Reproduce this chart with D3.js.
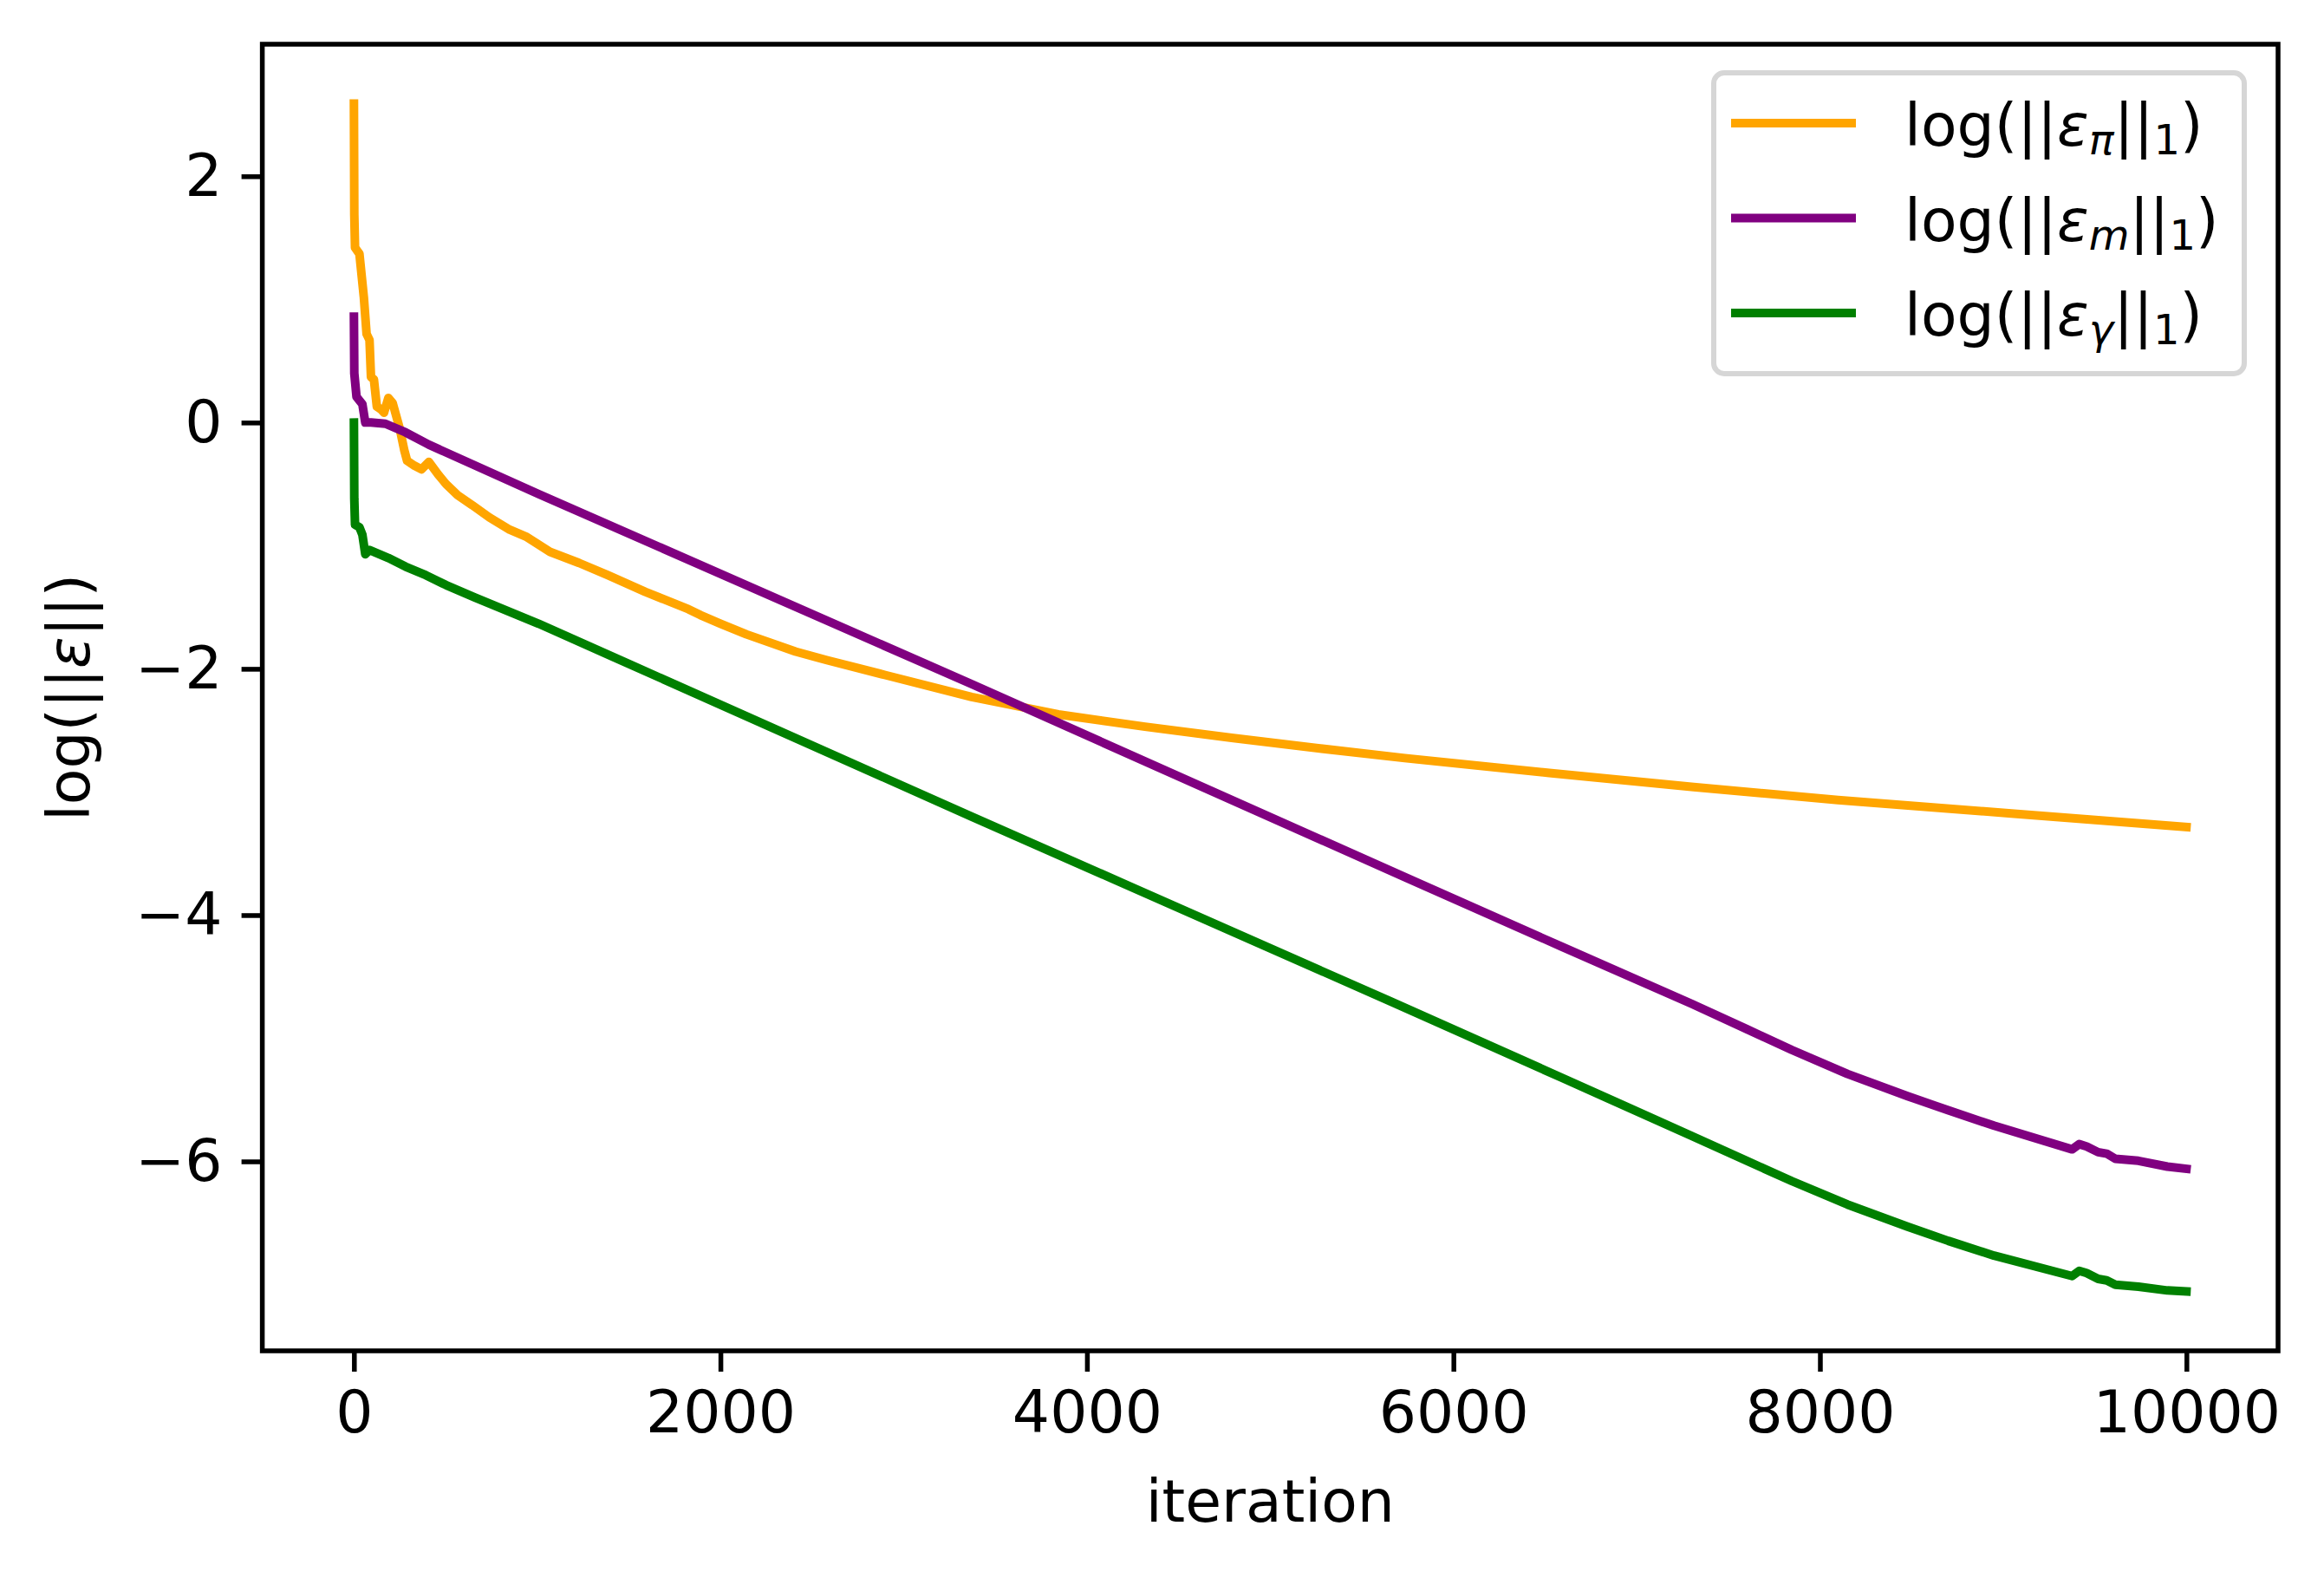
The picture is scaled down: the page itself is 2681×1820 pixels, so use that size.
<!DOCTYPE html>
<html>
<head>
<meta charset="utf-8">
<script src="https://cdn.jsdelivr.net/npm/d3@7"></script>
<style>
  body { margin: 0; background: #fff; }
  svg text { font-family: "DejaVu Sans", sans-serif; }
</style>
</head>
<body>
<svg id="chart" width="2681" height="1820"></svg>
<script>
// log(||eps_pi||_1)
const piIter = [0, 2, 6, 30, 54, 69, 85, 93, 109, 125, 149, 164, 188, 211, 251, 274, 290, 330, 369, 409, 464, 503, 566, 645, 739, 850, 944, 1070, 1228, 1386, 1590, 1826, 1890, 2000, 2142, 2410, 2583, 2898, 3371, 3844, 4317, 4790, 5262, 5735, 6523, 7311, 8099, 9045, 10000];
const piVal = [2.59, 1.69, 1.42, 1.37, 1.02, 0.72, 0.67, 0.37, 0.35, 0.13, 0.105, 0.08, 0.20, 0.16, -0.055, -0.22, -0.31, -0.35, -0.38, -0.32, -0.43, -0.50, -0.59, -0.67, -0.77, -0.87, -0.93, -1.05, -1.14, -1.24, -1.375, -1.516, -1.563, -1.633, -1.72, -1.86, -1.93, -2.05, -2.229, -2.37, -2.47, -2.56, -2.645, -2.725, -2.845, -2.96, -3.065, -3.175, -3.285];

// log(||eps_m||_1)
const mIter = [0, 2, 14, 46, 62, 93, 172, 282, 409, 1007, 3371, 5735, 6586, 7300, 7600, 7847, 8150, 8478, 8700, 8950, 9376, 9415, 9455, 9518, 9565, 9612, 9738, 9896, 10000];
const mVal = [0.86, 0.40, 0.21, 0.15, 0.0, 0.0, -0.01, -0.08, -0.18, -0.58, -2.124, -3.691, -4.253, -4.72, -4.925, -5.095, -5.29, -5.47, -5.585, -5.71, -5.902, -5.86, -5.878, -5.925, -5.937, -5.979, -5.995, -6.042, -6.06];

// log(||eps_gamma||_1)
const gIter = [0, 2, 6, 30, 46, 62, 85, 188, 282, 393, 503, 660, 1007, 3371, 5656, 6586, 7296, 7600, 7847, 8150, 8478, 8700, 8950, 9376, 9415, 9455, 9518, 9565, 9612, 9738, 9896, 10000];
const gVal = [0.0, -0.62, -0.83, -0.85, -0.91, -1.07, -1.035, -1.10, -1.17, -1.24, -1.32, -1.42, -1.633, -3.2, -4.70, -5.317, -5.79, -5.995, -6.16, -6.35, -6.53, -6.645, -6.765, -6.931, -6.889, -6.907, -6.954, -6.966, -7.001, -7.017, -7.048, -7.056];

const xTicks = [0, 2000, 4000, 6000, 8000, 10000];
const yTicks = [-6, -4, -2, 0, 2];
const subs = ["π", "m", "γ"];
const colors = ["orange", "purple", "green"];

const series = [
    {iter: piIter, val: piVal},
    {iter: mIter, val: mVal},
    {iter: gIter, val: gVal}
].map((s, i) => ({sub: subs[i], color: colors[i], pts: s.iter.map((d, j) => [d, s.val[j]])}));

let svg = d3.select("#chart");
const plot = {left: 302.6, right: 2628, top: 51, bottom: 1558};
const fontSize = 68;
const tickLen = 24;
const spineW = 5.5;
const lineW = 10;

function padded(ext) { // 5% margins like matplotlib
    let p = (ext[1] - ext[0]) * 0.05;
    return [ext[0] - p, ext[1] + p];
}

let x = d3.scaleLinear()
    .domain(padded(d3.extent([].concat(piIter, mIter, gIter))))
    .range([plot.left, plot.right]);
let y = d3.scaleLinear()
    .domain(padded(d3.extent([].concat(piVal, mVal, gVal))))
    .range([plot.bottom, plot.top]);

let line = d3.line().x(d => x(d[0])).y(d => y(d[1]));

svg.append("g")
    .selectAll("path")
    .data(series)
    .join("path")
    .attr("d", d => line(d.pts))
    .attr("fill", "none")
    .attr("stroke", d => d.color)
    .attr("stroke-width", lineW)
    .attr("stroke-linejoin", "round")
    .attr("stroke-linecap", "square");

function styleAxis(g) {
    g.select(".domain").remove();
    g.attr("font-size", fontSize).attr("font-family", "DejaVu Sans, sans-serif");
    g.selectAll(".tick line").attr("stroke", "#000").attr("stroke-width", spineW);
    g.selectAll(".tick text").attr("fill", "#000");
}

svg.append("g")
    .attr("transform", `translate(0,${plot.bottom})`)
    .call(d3.axisBottom(x).tickValues(xTicks).tickSize(tickLen).tickPadding(22).tickFormat(d3.format("d")))
    .call(styleAxis);

svg.append("g")
    .attr("transform", `translate(${plot.left},0)`)
    .call(d3.axisLeft(y).tickValues(yTicks).tickSize(tickLen).tickPadding(22).tickFormat(d3.format("d")))
    .call(styleAxis);

// frame
svg.append("rect")
    .attr("x", plot.left).attr("y", plot.top)
    .attr("width", plot.right - plot.left).attr("height", plot.bottom - plot.top)
    .attr("fill", "none").attr("stroke", "#000").attr("stroke-width", spineW);

// axis labels
svg.append("text")
    .attr("x", (plot.left + plot.right) / 2).attr("y", 1755)
    .attr("text-anchor", "middle").attr("font-size", fontSize)
    .text("iteration");

let ylab = svg.append("text")
    .attr("transform", `translate(103,${(plot.top + plot.bottom) / 2}) rotate(-90)`)
    .attr("text-anchor", "middle").attr("font-size", fontSize);
ylab.append("tspan").text("log(||");
ylab.append("tspan").attr("font-style", "italic").text("ε");
ylab.append("tspan").text("||)");

// legend
let legend = svg.append("g");
legend.append("rect")
    .attr("x", 1977).attr("y", 84).attr("width", 612).attr("height", 347)
    .attr("rx", 12).attr("fill", "#fff").attr("fill-opacity", 0.8)
    .attr("stroke", "#d6d6d6").attr("stroke-width", 6);

let rows = legend.selectAll("g.row")
    .data(series)
    .join("g")
    .attr("class", "row")
    .attr("transform", (d, i) => `translate(0,${142 + i * 109.5})`);

rows.append("line")
    .attr("x1", 1997).attr("x2", 2141)
    .attr("stroke", d => d.color).attr("stroke-width", lineW);

rows.each(function (d) {
    let t = d3.select(this).append("text")
        .attr("x", 2197).attr("y", 26).attr("font-size", fontSize);
    t.append("tspan").text("log(||");
    t.append("tspan").attr("font-style", "italic").text("ε");
    t.append("tspan").attr("font-style", "italic").attr("font-size", 48).attr("dy", 10).text(d.sub);
    t.append("tspan").attr("dy", -10).text("||");
    t.append("tspan").attr("font-size", 48).attr("dy", 10).text("1");
    t.append("tspan").attr("dy", -10).text(")");
});
</script>
</body>
</html>
